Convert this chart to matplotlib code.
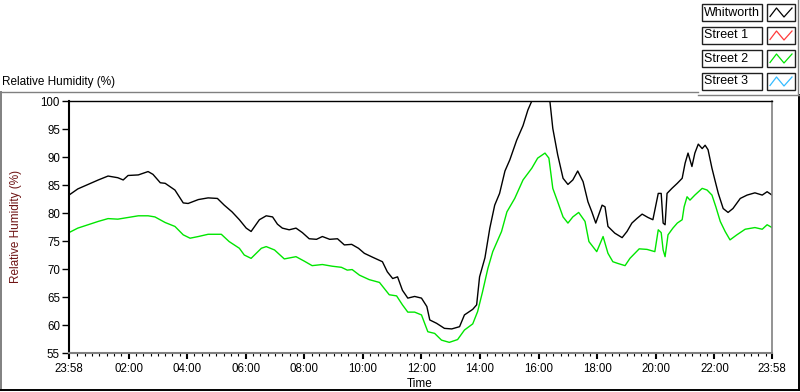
import matplotlib
matplotlib.use('Agg')
import matplotlib.pyplot as plt
import matplotlib.dates as mdates
from matplotlib.patches import Rectangle
from matplotlib.lines import Line2D
from datetime import datetime, timedelta

plt.rcParams['font.family'] = ['Liberation Sans', 'DejaVu Sans']

# ---------------- data (minutes after 23:58, relative humidity %) ----------------
whit_min = [0, 18, 39, 60, 80, 100, 111, 121, 142, 162, 172, 187, 197, 217, 234, 244,
            265, 285, 304, 318, 334, 349, 363, 373, 390, 404, 417, 427, 437, 451, 465,
            478, 492, 507, 519, 534, 550, 564, 579, 593, 605, 622, 642, 652, 663, 673,
            683, 694, 708, 722, 733, 739, 753, 769, 784, 800, 810, 827, 835, 841, 852,
            862, 872, 882, 893, 903, 917, 930, 940, 948, 985, 991, 1001, 1012, 1022,
            1032, 1042, 1053, 1063, 1071, 1079, 1092, 1098, 1104, 1118, 1133, 1143,
            1153, 1163, 1174, 1186, 1196, 1207, 1213, 1217, 1221, 1225, 1235, 1246,
            1256, 1262, 1268, 1276, 1282, 1289, 1297, 1303, 1309, 1317, 1323, 1330,
            1340, 1350, 1360, 1375, 1389, 1405, 1420, 1430, 1440]
whit_rh = [83.2, 84.3, 85.1, 85.9, 86.6, 86.3, 85.9, 86.7, 86.8, 87.4, 86.9, 85.4, 85.3,
           84.1, 81.8, 81.7, 82.4, 82.7, 82.6, 81.4, 80.2, 78.8, 77.3, 76.7, 78.8, 79.5,
           79.3, 78.0, 77.3, 77.0, 77.3, 76.5, 75.4, 75.3, 75.8, 75.3, 75.4, 74.3, 74.4,
           73.7, 72.8, 72.1, 71.3, 69.5, 68.3, 68.6, 66.2, 64.8, 65.1, 64.8, 63.3, 60.9,
           60.3, 59.4, 59.3, 59.7, 61.8, 62.8, 63.6, 68.6, 72.0, 77.3, 81.4, 83.5, 87.5,
           89.5, 93.0, 95.6, 98.4, 100.0, 100.0, 95.1, 90.4, 86.2, 85.1, 85.9, 87.5,
           85.6, 82.0, 80.2, 78.2, 81.4, 81.1, 77.6, 76.4, 75.6, 76.7, 78.2, 79.0, 79.8,
           79.2, 78.8, 83.5, 83.5, 78.2, 77.9, 83.5, 84.4, 85.3, 86.2, 88.9, 90.7, 88.3,
           90.7, 92.3, 91.5, 92.1, 91.3, 88.0, 85.9, 83.5, 80.8, 80.1, 80.8, 82.6, 83.2,
           83.6, 83.2, 83.8, 83.2]

st2_min = [0, 18, 39, 60, 80, 100, 121, 142, 162, 176, 197, 217, 234, 248, 265, 285,
           312, 328, 349, 359, 373, 394, 404, 421, 441, 465, 482, 498, 519, 539, 558,
           570, 580, 595, 615, 636, 646, 656, 671, 683, 694, 708, 722, 735, 749, 763,
           779, 796, 810, 827, 837, 847, 858, 868, 880, 886, 897, 913, 930, 948, 960,
           975, 983, 991, 1001, 1012, 1022, 1032, 1044, 1057, 1065, 1081, 1094, 1104,
           1114, 1124, 1139, 1149, 1168, 1184, 1200, 1207, 1213, 1217, 1221, 1227,
           1237, 1246, 1256, 1260, 1266, 1272, 1282, 1297, 1307, 1317, 1325, 1334,
           1344, 1354, 1368, 1385, 1405, 1420, 1430, 1440]
st2_rh = [76.5, 77.3, 77.9, 78.5, 79.0, 78.9, 79.2, 79.5, 79.5, 79.3, 78.3, 77.6, 76.1,
          75.5, 75.8, 76.2, 76.2, 74.9, 73.7, 72.5, 71.9, 73.7, 74.0, 73.4, 71.8, 72.2,
          71.4, 70.6, 70.8, 70.5, 70.3, 69.8, 69.9, 68.9, 68.1, 67.6, 66.5, 65.4, 65.2,
          63.6, 62.3, 62.3, 61.8, 58.8, 58.5, 57.3, 56.9, 57.4, 59.1, 60.2, 62.4, 65.9,
          70.1, 73.1, 75.5, 76.7, 80.2, 82.6, 85.9, 88.0, 89.8, 90.7, 89.8, 84.4, 82.0,
          79.3, 78.2, 79.3, 80.1, 78.5, 74.9, 73.1, 75.8, 72.8, 71.3, 71.0, 70.6, 71.9,
          73.6, 73.5, 73.1, 77.0, 76.5, 73.4, 72.2, 76.1, 77.3, 78.2, 78.8, 81.1, 82.9,
          82.3, 83.2, 84.4, 84.1, 83.2, 81.1, 78.5, 76.7, 75.2, 76.1, 77.1, 77.4, 77.1,
          77.9, 77.4]

legend_labels = ['Whitworth', 'Street 1', 'Street 2', 'Street 3']
legend_colors = ['#000000', '#ff3b3b', '#00e600', '#33bbff']
y_ticks = [55, 60, 65, 70, 75, 80, 85, 90, 95, 100]
major_hours = [2, 4, 6, 8, 10, 12, 14, 16, 18, 20, 22]

# ---------------- figure ----------------
W, H = 800, 392
fig = plt.figure(figsize=(W / 100, H / 100), dpi=100)
fig.patch.set_facecolor('white')


def fx(px):
    return px / W


def fy(py):
    return 1 - py / H


start = datetime(2000, 1, 1, 23, 58)
end = start + timedelta(days=1)
whit_t = [start + timedelta(minutes=m) for m in whit_min]
st2_t = [start + timedelta(minutes=m) for m in st2_min]

ax = fig.add_axes([fx(69), fy(353), (772 - 69) / W, (353 - 101) / H])
ax.set_facecolor('white')
ax.plot(st2_t, st2_rh, color=legend_colors[2], lw=1.0)
ax.plot(whit_t, whit_rh, color=legend_colors[0], lw=1.0)

ax.set_ylim(55, 100)
ax.set_xlim(start, end)
ax.set_yticks(y_ticks)

day2 = datetime(2000, 1, 2)
majors = [start] + [day2 + timedelta(hours=h) for h in major_hours] + [end]
ax.set_xticks(majors)
ax.xaxis.set_major_formatter(mdates.DateFormatter('%H:%M'))
minors = []
t = day2 + timedelta(minutes=15)
while t < end:
    if not (t.minute == 0 and t.hour % 2 == 0):
        minors.append(t)
    t += timedelta(minutes=15)
ax.set_xticks(minors, minor=True)

ax.tick_params(axis='y', which='major', length=5, width=1, pad=1.5,
               labelsize=8.3, colors='black')
ax.tick_params(axis='x', which='major', length=4, width=1.5, pad=3,
               labelsize=8.3, colors='black')
ax.tick_params(axis='x', which='minor', length=2.3, width=0.8, colors='black')

ax.spines['left'].set_color('black')
ax.spines['left'].set_linewidth(1.5)
ax.spines['top'].set_color('black')
ax.spines['top'].set_linewidth(1.0)
ax.spines['right'].set_color('#808080')
ax.spines['right'].set_linewidth(1.2)
ax.spines['bottom'].set_color('#808080')
ax.spines['bottom'].set_linewidth(1.5)

# axis names
fig.text(fx(420), fy(384), 'Time', ha='center', va='center', fontsize=8.5, color='black')
fig.text(fx(16), fy(226), 'Relative Humidity (%)', ha='center', va='center',
         rotation=90, fontsize=8.5, color='#6e1414')
fig.text(fx(2), fy(82), 'Relative Humidity (%)', ha='left', va='center',
         fontsize=8.5, color='black')

# panel frame
gray = '#808080'
fig.add_artist(Line2D([fx(0), fx(698)], [fy(92), fy(92)], color=gray, lw=1.0,
                      transform=fig.transFigure))
fig.add_artist(Line2D([fx(1), fx(1)], [fy(92), fy(390)], color=gray, lw=1.4,
                      transform=fig.transFigure))
fig.add_artist(Line2D([fx(0), fx(800)], [fy(390), fy(390)], color='black', lw=1.4,
                      transform=fig.transFigure))
fig.add_artist(Line2D([fx(799), fx(799)], [fy(95), fy(390)], color='black', lw=1.4,
                      transform=fig.transFigure))
fig.add_artist(Line2D([fx(698), fx(800)], [fy(95), fy(95)], color=gray, lw=1.0,
                      transform=fig.transFigure))
fig.add_artist(Line2D([fx(797.5), fx(797.5)], [fy(0), fy(95)], color=gray, lw=1.0,
                      transform=fig.transFigure))

# legend
row_tops = [4, 27, 50, 73]
for lab, col, top in zip(legend_labels, legend_colors, row_tops):
    fig.add_artist(Rectangle((fx(702), fy(top + 17)), 60 / W, 17 / H, facecolor='white',
                             edgecolor='#202020', lw=1.0, transform=fig.transFigure))
    fig.add_artist(Rectangle((fx(767), fy(top + 17)), 28 / W, 17 / H, facecolor='white',
                             edgecolor='#202020', lw=1.0, transform=fig.transFigure))
    fig.text(fx(704), fy(top + 8.5), lab, ha='left', va='center', fontsize=9,
             color='black')
    zx = [770, 776.5, 784, 792]
    zy = [top + 12.5, top + 4, top + 13, top + 4]
    fig.add_artist(Line2D([fx(v) for v in zx], [fy(v) for v in zy], color=col, lw=0.9,
                          transform=fig.transFigure))

fig.savefig('out.png', dpi=100, facecolor='white')
